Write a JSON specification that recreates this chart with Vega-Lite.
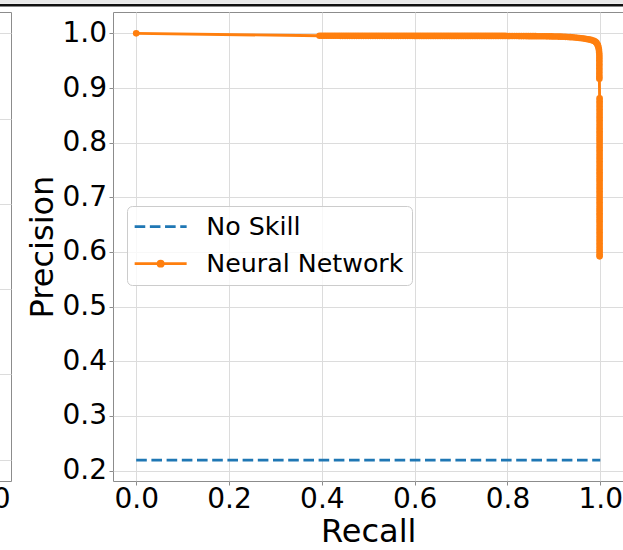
{
  "$schema": "https://vega.github.io/schema/vega-lite/v6.json",
  "background": "white",
  "autosize": {"type": "pad"},
  "padding": {"left": -500.5, "top": 0, "right": 0, "bottom": 0},
  "config": {
    "font": "DejaVu Sans",
    "view": {"stroke": "#8c8c8c", "strokeWidth": 1, "fill": "white"},
    "axis": {
      "domain": false,
      "gridColor": "#dcdcdc",
      "gridWidth": 1,
      "tickColor": "#8c8c8c",
      "tickSize": 4,
      "labelColor": "black",
      "labelFontSize": 28,
      "titleColor": "black",
      "titleFontSize": 32,
      "titleFontWeight": "normal"
    }
  },
  "datasets": {
    "strip": [{}],
    "rocBaseline": [{"fpr": 0, "tpr": 0}, {"fpr": 1, "tpr": 1}],
    "noSkill": [{"recall": 0, "precision": 0.219}, {"recall": 1, "precision": 0.219}],
    "models": [{"model": "No Skill"}, {"model": "Neural Network"}],
    "neuralNetwork": [
      {"recall": 0.0, "precision": 1.0},
      {"recall": 0.395, "precision": 0.9956}, {"recall": 0.4, "precision": 0.9956}, {"recall": 0.405, "precision": 0.9956}, {"recall": 0.41, "precision": 0.9956},
      {"recall": 0.415, "precision": 0.9956}, {"recall": 0.42, "precision": 0.9956}, {"recall": 0.425, "precision": 0.9956}, {"recall": 0.43, "precision": 0.9956},
      {"recall": 0.435, "precision": 0.9956}, {"recall": 0.44, "precision": 0.9955}, {"recall": 0.445, "precision": 0.9955}, {"recall": 0.45, "precision": 0.9955},
      {"recall": 0.455, "precision": 0.9955}, {"recall": 0.46, "precision": 0.9955}, {"recall": 0.465, "precision": 0.9955}, {"recall": 0.47, "precision": 0.9955},
      {"recall": 0.475, "precision": 0.9955}, {"recall": 0.48, "precision": 0.9955}, {"recall": 0.485, "precision": 0.9955}, {"recall": 0.49, "precision": 0.9955},
      {"recall": 0.495, "precision": 0.9955}, {"recall": 0.5, "precision": 0.9955}, {"recall": 0.505, "precision": 0.9955}, {"recall": 0.51, "precision": 0.9955},
      {"recall": 0.515, "precision": 0.9955}, {"recall": 0.52, "precision": 0.9955}, {"recall": 0.525, "precision": 0.9955}, {"recall": 0.53, "precision": 0.9955},
      {"recall": 0.535, "precision": 0.9955}, {"recall": 0.54, "precision": 0.9955}, {"recall": 0.545, "precision": 0.9955}, {"recall": 0.55, "precision": 0.9955},
      {"recall": 0.555, "precision": 0.9955}, {"recall": 0.56, "precision": 0.9955}, {"recall": 0.565, "precision": 0.9955}, {"recall": 0.57, "precision": 0.9955},
      {"recall": 0.575, "precision": 0.9955}, {"recall": 0.58, "precision": 0.9955}, {"recall": 0.585, "precision": 0.9955}, {"recall": 0.59, "precision": 0.9955},
      {"recall": 0.595, "precision": 0.9955}, {"recall": 0.6, "precision": 0.9954}, {"recall": 0.605, "precision": 0.9954}, {"recall": 0.61, "precision": 0.9954},
      {"recall": 0.615, "precision": 0.9954}, {"recall": 0.62, "precision": 0.9954}, {"recall": 0.625, "precision": 0.9954}, {"recall": 0.63, "precision": 0.9954},
      {"recall": 0.635, "precision": 0.9954}, {"recall": 0.64, "precision": 0.9954}, {"recall": 0.645, "precision": 0.9954}, {"recall": 0.65, "precision": 0.9954},
      {"recall": 0.655, "precision": 0.9954}, {"recall": 0.66, "precision": 0.9954}, {"recall": 0.665, "precision": 0.9954}, {"recall": 0.67, "precision": 0.9954},
      {"recall": 0.675, "precision": 0.9954}, {"recall": 0.68, "precision": 0.9954}, {"recall": 0.685, "precision": 0.9954}, {"recall": 0.69, "precision": 0.9954},
      {"recall": 0.695, "precision": 0.9954}, {"recall": 0.7, "precision": 0.9953}, {"recall": 0.705, "precision": 0.9953}, {"recall": 0.71, "precision": 0.9953},
      {"recall": 0.715, "precision": 0.9953}, {"recall": 0.72, "precision": 0.9953}, {"recall": 0.725, "precision": 0.9953}, {"recall": 0.73, "precision": 0.9953},
      {"recall": 0.735, "precision": 0.9953}, {"recall": 0.74, "precision": 0.9953}, {"recall": 0.745, "precision": 0.9953}, {"recall": 0.75, "precision": 0.9953},
      {"recall": 0.755, "precision": 0.9953}, {"recall": 0.76, "precision": 0.9953}, {"recall": 0.765, "precision": 0.9953}, {"recall": 0.77, "precision": 0.9953},
      {"recall": 0.775, "precision": 0.9953}, {"recall": 0.78, "precision": 0.9953}, {"recall": 0.785, "precision": 0.9953}, {"recall": 0.79, "precision": 0.9953},
      {"recall": 0.795, "precision": 0.9953}, {"recall": 0.8, "precision": 0.9952}, {"recall": 0.805, "precision": 0.9951}, {"recall": 0.81, "precision": 0.9951},
      {"recall": 0.815, "precision": 0.9951}, {"recall": 0.82, "precision": 0.9951}, {"recall": 0.825, "precision": 0.995}, {"recall": 0.83, "precision": 0.995},
      {"recall": 0.835, "precision": 0.995}, {"recall": 0.84, "precision": 0.995}, {"recall": 0.845, "precision": 0.9949}, {"recall": 0.85, "precision": 0.9949},
      {"recall": 0.855, "precision": 0.9949}, {"recall": 0.86, "precision": 0.9949}, {"recall": 0.865, "precision": 0.9948}, {"recall": 0.87, "precision": 0.9948},
      {"recall": 0.875, "precision": 0.9948}, {"recall": 0.88, "precision": 0.9947}, {"recall": 0.885, "precision": 0.9946}, {"recall": 0.89, "precision": 0.9945},
      {"recall": 0.895, "precision": 0.9944}, {"recall": 0.9, "precision": 0.9943}, {"recall": 0.905, "precision": 0.9942}, {"recall": 0.91, "precision": 0.9941},
      {"recall": 0.915, "precision": 0.994}, {"recall": 0.92, "precision": 0.9939}, {"recall": 0.925, "precision": 0.9937}, {"recall": 0.93, "precision": 0.9934},
      {"recall": 0.935, "precision": 0.9931}, {"recall": 0.94, "precision": 0.9928}, {"recall": 0.945, "precision": 0.9924}, {"recall": 0.95, "precision": 0.992},
      {"recall": 0.955, "precision": 0.9916}, {"recall": 0.96, "precision": 0.9911}, {"recall": 0.965, "precision": 0.9905}, {"recall": 0.97, "precision": 0.9898},
      {"recall": 0.975, "precision": 0.989}, {"recall": 0.98, "precision": 0.988}, {"recall": 0.985, "precision": 0.9866}, {"recall": 0.988, "precision": 0.9855},
      {"recall": 0.99, "precision": 0.9843}, {"recall": 0.992, "precision": 0.9825}, {"recall": 0.994, "precision": 0.9797}, {"recall": 0.995, "precision": 0.9775},
      {"recall": 0.996, "precision": 0.9745}, {"recall": 0.997, "precision": 0.9705}, {"recall": 0.9975, "precision": 0.966},
      {"recall": 0.998, "precision": 0.961}, {"recall": 0.998, "precision": 0.956}, {"recall": 0.998, "precision": 0.951}, {"recall": 0.998, "precision": 0.946},
      {"recall": 0.998, "precision": 0.941}, {"recall": 0.998, "precision": 0.936}, {"recall": 0.998, "precision": 0.931}, {"recall": 0.998, "precision": 0.926},
      {"recall": 0.998, "precision": 0.921}, {"recall": 0.998, "precision": 0.917},
      {"recall": 0.9985, "precision": 0.881}, {"recall": 0.9985, "precision": 0.876}, {"recall": 0.9985, "precision": 0.871}, {"recall": 0.9985, "precision": 0.866},
      {"recall": 0.9985, "precision": 0.861}, {"recall": 0.9985, "precision": 0.856}, {"recall": 0.9985, "precision": 0.851}, {"recall": 0.9985, "precision": 0.846},
      {"recall": 0.9985, "precision": 0.841}, {"recall": 0.9985, "precision": 0.836}, {"recall": 0.9985, "precision": 0.831}, {"recall": 0.9985, "precision": 0.826},
      {"recall": 0.9985, "precision": 0.821}, {"recall": 0.9985, "precision": 0.816}, {"recall": 0.9985, "precision": 0.811}, {"recall": 0.9985, "precision": 0.806},
      {"recall": 0.9985, "precision": 0.801}, {"recall": 0.9985, "precision": 0.796}, {"recall": 0.9985, "precision": 0.791}, {"recall": 0.9985, "precision": 0.786},
      {"recall": 0.9985, "precision": 0.781}, {"recall": 0.9985, "precision": 0.776}, {"recall": 0.9985, "precision": 0.771}, {"recall": 0.9985, "precision": 0.766},
      {"recall": 0.9985, "precision": 0.761}, {"recall": 0.9985, "precision": 0.756}, {"recall": 0.9985, "precision": 0.751}, {"recall": 0.9985, "precision": 0.746},
      {"recall": 0.9985, "precision": 0.741}, {"recall": 0.9985, "precision": 0.736}, {"recall": 0.9985, "precision": 0.731}, {"recall": 0.9985, "precision": 0.726},
      {"recall": 0.9985, "precision": 0.721}, {"recall": 0.9985, "precision": 0.716}, {"recall": 0.9985, "precision": 0.711}, {"recall": 0.9985, "precision": 0.706},
      {"recall": 0.9985, "precision": 0.701}, {"recall": 0.9985, "precision": 0.696}, {"recall": 0.9985, "precision": 0.691}, {"recall": 0.9985, "precision": 0.686},
      {"recall": 0.9985, "precision": 0.681}, {"recall": 0.9985, "precision": 0.676}, {"recall": 0.9985, "precision": 0.671}, {"recall": 0.9985, "precision": 0.666},
      {"recall": 0.9985, "precision": 0.661}, {"recall": 0.9985, "precision": 0.656}, {"recall": 0.9985, "precision": 0.651}, {"recall": 0.9985, "precision": 0.646},
      {"recall": 0.9985, "precision": 0.641}, {"recall": 0.9985, "precision": 0.636}, {"recall": 0.9985, "precision": 0.631}, {"recall": 0.9985, "precision": 0.626},
      {"recall": 0.9985, "precision": 0.621}, {"recall": 0.9985, "precision": 0.616}, {"recall": 0.9985, "precision": 0.611}, {"recall": 0.9985, "precision": 0.606},
      {"recall": 0.9985, "precision": 0.601}, {"recall": 0.9985, "precision": 0.596}, {"recall": 0.9985, "precision": 0.592}
    ]
  },
  "vconcat": [
    {
      "width": 1123, "height": 3.7,
      "data": {"name": "strip"},
      "mark": {"type": "rect", "color": "#e8e8e8"},
      "encoding": {},
      "view": {"stroke": null}
    },
    {
      "width": 1123, "height": 2.6,
      "data": {"name": "strip"},
      "mark": {"type": "rect", "color": "#111111"},
      "encoding": {},
      "view": {"stroke": null}
    },
    {
      "width": 1123, "height": 4.7,
      "data": {"name": "strip"},
      "mark": {"type": "rect", "color": "white"},
      "encoding": {},
      "view": {"stroke": null}
    },
    {
      "hconcat": [
        {
          "width": 510.5, "height": 469,
          "data": {"name": "rocBaseline"},
          "mark": {"type": "line", "color": "#1f77b4", "strokeWidth": 2.875, "strokeDash": [10.6, 4.6]},
          "encoding": {
            "x": {
              "field": "fpr", "type": "quantitative",
              "scale": {"domain": [-0.05, 1.05], "nice": false, "zero": false},
              "axis": {"values": [1.0], "format": ".1f", "title": null, "labelPadding": 0, "grid": true}
            },
            "y": {
              "field": "tpr", "type": "quantitative",
              "scale": {"domain": [-0.05, 1.05], "nice": false, "zero": false},
              "axis": {"values": [0, 0.2, 0.4, 0.6, 0.8, 1.0], "labels": false, "ticks": false, "title": null, "grid": true}
            }
          }
        },
        {
          "width": 510.5, "height": 469,
          "layer": [
            {
              "data": {"name": "noSkill"},
              "mark": {"type": "line", "color": "#1f77b4", "strokeWidth": 2.875, "strokeDash": [10.6, 4.6]},
              "encoding": {
                "x": {
                  "field": "recall", "type": "quantitative",
                  "scale": {"domain": [-0.05, 1.05], "nice": false, "zero": false},
                  "axis": {"values": [0, 0.2, 0.4, 0.6, 0.8, 1.0], "format": ".1f", "title": "Recall", "labelPadding": 0, "titlePadding": 3, "grid": true}
                },
                "y": {
                  "field": "precision", "type": "quantitative",
                  "scale": {"domain": [0.1809, 1.0391], "nice": false, "zero": false},
                  "axis": {"values": [0.2, 0.3, 0.4, 0.5, 0.6, 0.7, 0.8, 0.9, 1.0], "format": ".1f", "title": "Precision", "labelPadding": 2.5, "titlePadding": 2, "grid": true}
                }
              }
            },
            {
              "data": {"name": "neuralNetwork"},
              "mark": {"type": "line", "color": "#ff7f0e", "strokeWidth": 2.875, "point": {"filled": true, "size": 44, "color": "#ff7f0e"}},
              "encoding": {
                "x": {"field": "recall", "type": "quantitative"},
                "y": {"field": "precision", "type": "quantitative"},
                "order": {"value": null}
              }
            },
            {
              "data": {"name": "models"},
              "mark": {"type": "point", "filled": false, "opacity": 0},
              "encoding": {
                "color": {
                  "field": "model", "type": "nominal",
                  "scale": {"domain": ["No Skill", "Neural Network"], "range": ["#1f77b4", "#ff7f0e"]},
                  "legend": {"title": null, "orient": "none", "legendX": 626.5, "legendY": 206, "fillColor": "rgba(255,255,255,0.8)", "strokeColor": "#cccccc", "cornerRadius": 5, "padding": 8, "labelFontSize": 25.3, "labelLimit": 0, "labelColor": "black", "symbolStrokeWidth": 2.875, "symbolSize": 100, "symbolOffset": 13, "labelOffset": 33, "rowPadding": 11, "symbolOpacity": 1}
                },
                "shape": {
                  "field": "model", "type": "nominal",
                  "scale": {"domain": ["No Skill", "Neural Network"], "range": ["M-5.2,0H-3.08M-2.16,0H-0.04M0.88,0H3M3.92,0H5.2", "M-5.2,0H5.2M-0.5,0A0.5,0.5,0,1,1,0.5,0A0.5,0.5,0,1,1,-0.5,0"]},
                  "legend": {"title": null, "orient": "none", "legendX": 626.5, "legendY": 206, "fillColor": "rgba(255,255,255,0.8)", "strokeColor": "#cccccc", "cornerRadius": 5, "padding": 8, "labelFontSize": 25.3, "labelLimit": 0, "labelColor": "black", "symbolStrokeWidth": 2.875, "symbolSize": 100, "symbolOffset": 13, "labelOffset": 33, "rowPadding": 11, "symbolOpacity": 1}
                }
              }
            }
          ]
        }
      ],
      "spacing": 101.5,
      "bounds": "flush"
    }
  ],
  "spacing": 0,
  "bounds": "flush"
}
